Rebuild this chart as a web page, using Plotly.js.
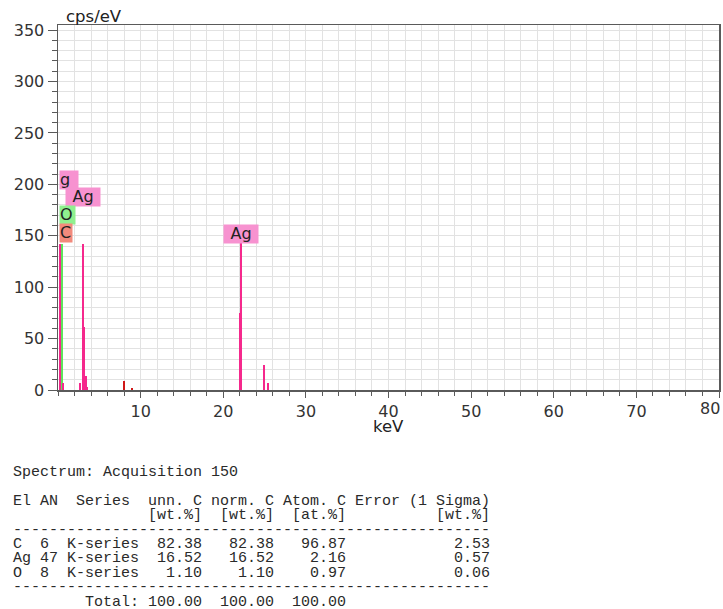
<!DOCTYPE html>
<html><head><meta charset="utf-8">
<script src="https://cdn.plot.ly/plotly-3.0.1.min.js"></script>
<style>html,body{margin:0;padding:0;background:#fff}#chart{width:723px;height:609px}</style>
</head><body><div id="chart"></div>
<script>
// ---- spectrum data (keV, cps/eV) ----
const peakEnergy  = [0.30, 0.52, 0.62, 2.69, 2.98, 3.15, 3.35, 3.55, 8.04, 8.90, 22.00, 22.16, 24.94, 25.45];
const peakCounts  = [142, 142, 7, 7, 142, 61, 14, 3, 9, 2, 75, 143, 24, 7];
const peakElement = ['Ag','O','Ag','Ag','Ag','Ag','Ag','Ag','Cu','Cu','Ag','Ag','Ag','Ag'];

// ---- peak labels ----
const labelText    = ['g', 'Ag', 'O', 'C', 'Ag'];
const labelElement = ['Ag', 'Ag', 'O', 'C', 'Ag'];
const labelEnergy  = [0, 2.97, 0, 0, 22.15];
const labelLevel   = [195, 178.3, 160.5, 142.7, 141.7];

// ---- tick labels ----
const xTickVals = [10, 20, 30, 40, 50, 60, 70, 80];
const yTickVals = [0, 50, 100, 150, 200, 250, 300, 350];

// ---- quantification table ----
const tableLines = [
  'Spectrum: Acquisition 150',
  '',
  'El AN  Series  unn. C norm. C Atom. C Error (1 Sigma)',
  '               [wt.%]  [wt.%]  [at.%]          [wt.%]',
  '-----------------------------------------------------',
  'C  6  K-series  82.38   82.38   96.87            2.53',
  'Ag 47 K-series  16.52   16.52    2.16            0.57',
  'O  8  K-series   1.10    1.10    0.97            0.06',
  '-----------------------------------------------------',
  '        Total: 100.00  100.00  100.00'
];

// ---- styling ----
const elementColor = {Ag:'#f5288c', O:'#5ee35e', Cu:'#d01818', C:'#f08878'};
const labelBg = {Ag:'#f792d0', O:'#8ff08f', C:'#f28a7c'};
const W = 723, H = 609;
const M = {l:58, r:4, t:25, b:219};
const plotH = H - M.t - M.b, plotW = W - M.l - M.r;
const pyToPaper = py => (H - M.b - py) / plotH;
const pxToPaper = px => (px - M.l) / plotW;

const trace = {
  type:'bar', x:peakEnergy, y:peakCounts, width:0.24,
  marker:{color:peakElement.map(e => elementColor[e]), line:{width:0}},
  hoverinfo:'x+y', showlegend:false
};

const annotations = [];
labelText.forEach((t, i) => {
  const clipped = labelEnergy[i] === 0;
  annotations.push({
    x: labelEnergy[i], y: labelLevel[i], xref:'x', yref:'y',
    xanchor: clipped ? 'left' : 'center', yanchor:'bottom', xshift: clipped ? 1 : 0,
    text: t, showarrow:false, bgcolor: labelBg[labelElement[i]],
    width: t === 'Ag' ? 34 : (t === 'g' ? 18 : (t === 'O' ? 15 : 12)), height:17.5,
    align: clipped ? 'left' : 'center', valign:'middle', borderpad:0,
    font:{family:'DejaVu Sans', size:16, color:'#222'}
  });
});

// last x tick label sits flush against the right edge
const lastX = xTickVals[xTickVals.length - 1];
annotations.push({xref:'x', yref:'paper', x:lastX, y:pyToPaper(408), xanchor:'right', yanchor:'middle', xshift:2,
  text:String(lastX), showarrow:false, borderpad:0, font:{family:'DejaVu Sans', size:16, color:'#333'}});

// axis titles
annotations.push({xref:'paper', yref:'paper', x:pxToPaper(64), y:pyToPaper(16.5), xanchor:'left', yanchor:'middle',
  text:'cps/eV', showarrow:false, font:{family:'DejaVu Sans', size:16.5, color:'#222'}});
annotations.push({xref:'paper', yref:'paper', x:0.5, y:pyToPaper(426), xanchor:'center', yanchor:'middle',
  text:'keV', showarrow:false, font:{family:'DejaVu Sans', size:16.5, color:'#222'}});

// table lines
tableLines.forEach((line, i) => {
  if (!line) return;
  annotations.push({xref:'paper', yref:'paper', x:pxToPaper(12), y:pyToPaper(472.5 + i * 14.4),
    xanchor:'left', yanchor:'middle', borderpad:0, showarrow:false, align:'left',
    text: line.replace(/ /g, '\u00a0'),
    font:{family:'Liberation Mono', size:15, color:'#2a2a2a'}});
});

const gridC = '#e2e2e2', axC = '#5a5a5a';
const layout = {
  width:W, height:H, margin:M, paper_bgcolor:'#fff', plot_bgcolor:'#fff',
  font:{family:'DejaVu Sans', size:16, color:'#333'},
  showlegend:false,
  xaxis:{range:[0,80], tickmode:'array', tickvals:xTickVals,
    ticktext:xTickVals.map(v => v === lastX ? '' : String(v)),
    ticks:'outside', ticklen:6, tickwidth:1, tickcolor:axC,
    showline:true, linecolor:axC, linewidth:1.5, mirror:true,
    showgrid:true, gridcolor:gridC, zeroline:false,
    minor:{dtick:2, tick0:0, ticks:'outside', ticklen:4, tickcolor:axC, showgrid:true, gridcolor:gridC},
    tickfont:{family:'DejaVu Sans', size:16, color:'#333'}},
  yaxis:{range:[0,355], tickmode:'array', tickvals:yTickVals, ticktext:yTickVals.map(String),
    ticks:'outside', ticklen:9, tickwidth:1, tickcolor:axC,
    showline:true, linecolor:axC, linewidth:1.5, mirror:true,
    showgrid:true, gridcolor:gridC, zeroline:false,
    minor:{dtick:10, tick0:0, ticks:'outside', ticklen:5, tickcolor:axC, showgrid:true, gridcolor:gridC},
    tickfont:{family:'DejaVu Sans', size:16, color:'#333'}},
  annotations: annotations,
  bargap:0
};
Plotly.newPlot('chart', [trace], layout, {displayModeBar:false, staticPlot:true});
</script></body></html>
